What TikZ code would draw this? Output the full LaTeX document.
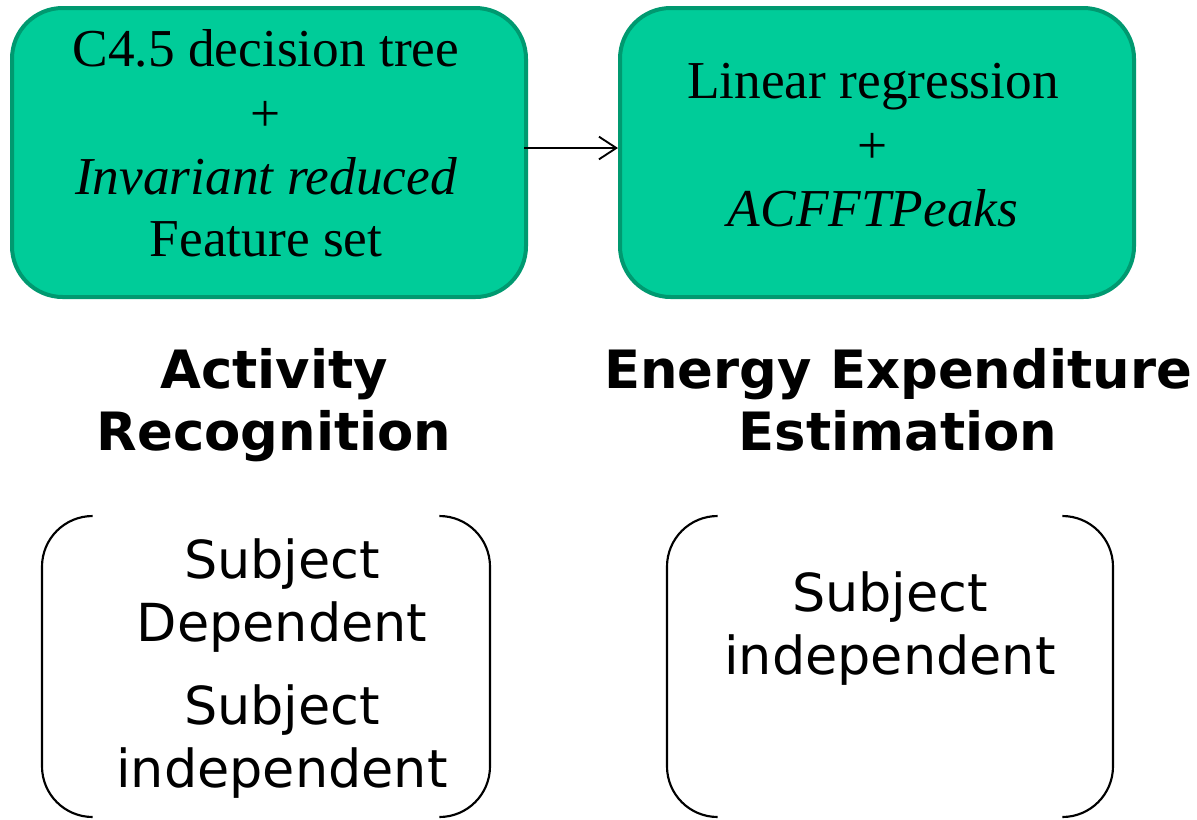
\documentclass[tikz,border=0pt]{standalone}
\usepackage{fontspec}
\setmainfont{Liberation Serif}
\newfontfamily\headfont{DejaVu Sans}
\usetikzlibrary{arrows.meta}
\definecolor{boxfill}{HTML}{00CC99}
\definecolor{boxline}{HTML}{009970}
\tikzset{
  greenbox/.style={draw=boxline, fill=boxfill, line width=3pt, rounded corners=38pt},
  boxtext/.style={font=\fontsize{40}{48}\selectfont, anchor=base},
  headtext/.style={font=\headfont\bfseries\fontsize{39.6}{48}\selectfont, anchor=base},
  listtext/.style={font=\headfont\fontsize{39.3}{46}\selectfont, anchor=base},
  bracket/.style={draw=black, line width=1.6pt, rounded corners=38pt},
}
\begin{document}
\begin{tikzpicture}[x=0.75pt,y=-0.75pt]
\useasboundingbox (0,0) rectangle (1197,819);
% method boxes
\path[greenbox] (12,8) rectangle (526,297);
\path[greenbox] (620,8) rectangle (1134,297);
\coordinate (la) at (524,148);
\coordinate (ra) at (618,148);
\draw[line width=1.1pt, -{Straight Barb[length=13pt,width=17pt,line width=1.4pt]}] (la) -- (ra);
% classifier text
\node[boxtext] (c1) at (266,66) {C4.5 decision tree};
\node[boxtext] (c2) at (266,131) {+};
\node[boxtext] (c3) at (266,194) {\itshape Invariant reduced};
\node[boxtext] (c4) at (266,256) {Feature set};
\node[boxtext] (r1) at (873,98) {Linear regression};
\node[boxtext] (r2) at (873,163) {+};
\node[boxtext] (r3) at (873,226) {\itshape ACFFTPeaks};
% headings
\node[headtext] (h1) at (274,388) {Activity};
\node[headtext] (h2) at (274,450) {Recognition};
\node[headtext] (h3) at (898,388) {Energy Expenditure};
\node[headtext] (h4) at (898,450) {Estimation};
% evaluation settings
\draw[bracket] (92,516) -- (42,516) -- (42,817) -- (92,817);
\draw[bracket] (440,516) -- (490,516) -- (490,817) -- (440,817);
\draw[bracket] (717,516) -- (667,516) -- (667,817) -- (717,817);
\draw[bracket] (1063,516) -- (1113,516) -- (1113,817) -- (1063,817);
\node[listtext] (l1) at (282,578) {Subject};
\node[listtext] (l2) at (282,641) {Dependent};
\node[listtext] (l3) at (282,724) {Subject};
\node[listtext] (l4) at (282,787) {independent};
\node[listtext] (q1) at (890,611) {Subject};
\node[listtext] (q2) at (890,674) {independent};
\end{tikzpicture}
\end{document}
